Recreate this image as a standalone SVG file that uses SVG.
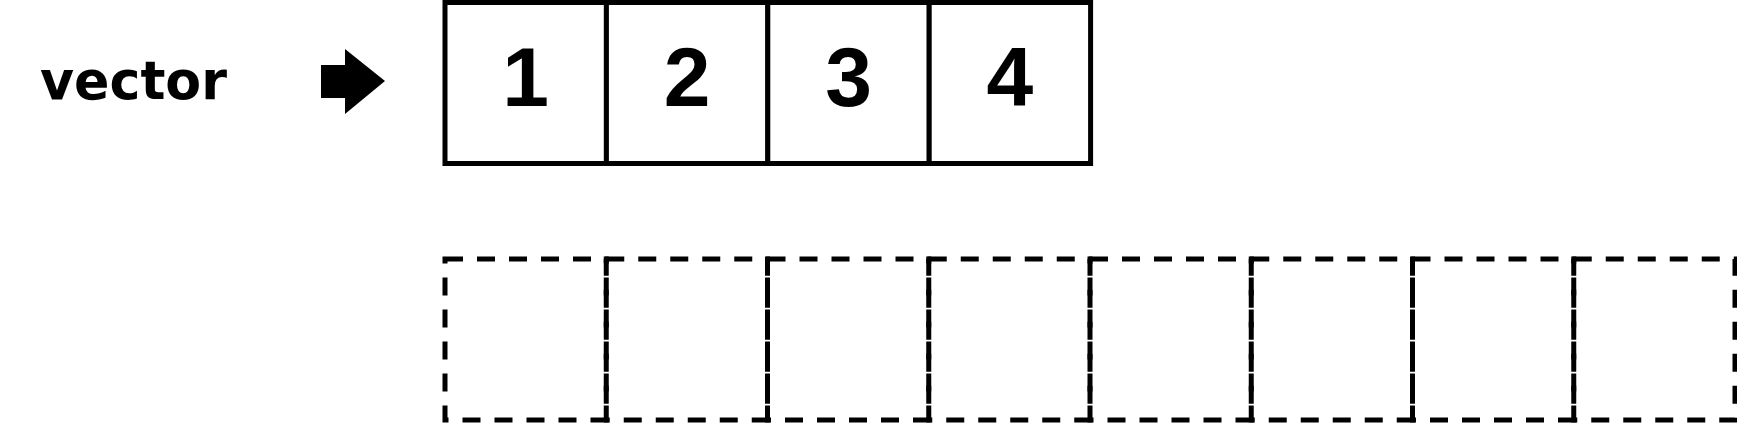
<svg xmlns="http://www.w3.org/2000/svg" width="1737" height="424" viewBox="0 0 1737 424">
<style>
.cell{fill:#fff;stroke:#000;stroke-width:5}
.dcell{fill:none;stroke:#000;stroke-width:5;stroke-dasharray:18 14}
.num{font-family:"Liberation Sans",Arial,sans-serif;font-weight:bold;font-size:84px;text-anchor:middle;fill:#000}
.lbl{font-family:"DejaVu Sans","Liberation Sans",sans-serif;font-weight:bold;font-size:54px;fill:#000}
</style>
<rect width="1737" height="424" fill="#fff"/>
<g id="label">
<text class="lbl" x="40" y="99" textLength="187" lengthAdjust="spacingAndGlyphs">vector</text>
</g>
<g id="connectors">
<path d="M321,65 H345 V49 L385,81 L345,114 V98 H321 Z" fill="#000"/>
</g>
<g id="vector">
<g id="v1"><rect class="cell" x="445" y="2.5" width="161.4" height="161"/><text class="num" x="525.7" y="106">1</text></g>
<g id="v2"><rect class="cell" x="606.4" y="2.5" width="161.4" height="161"/><text class="num" x="687.1" y="106">2</text></g>
<g id="v3"><rect class="cell" x="767.8" y="2.5" width="161.4" height="161"/><text class="num" x="848.5" y="106">3</text></g>
<g id="v4"><rect class="cell" x="929.2" y="2.5" width="161.4" height="161"/><text class="num" x="1009.9" y="106">4</text></g>
</g>
<g id="capacity">
<rect id="c1" class="dcell" x="445" y="259" width="161.25" height="161"/>
<rect id="c2" class="dcell" x="606.25" y="259" width="161.25" height="161"/>
<rect id="c3" class="dcell" x="767.5" y="259" width="161.25" height="161"/>
<rect id="c4" class="dcell" x="928.75" y="259" width="161.25" height="161"/>
<rect id="c5" class="dcell" x="1090" y="259" width="161.25" height="161"/>
<rect id="c6" class="dcell" x="1251.25" y="259" width="161.25" height="161"/>
<rect id="c7" class="dcell" x="1412.5" y="259" width="161.25" height="161"/>
<rect id="c8" class="dcell" x="1573.75" y="259" width="161.25" height="161"/>
</g>
</svg>
